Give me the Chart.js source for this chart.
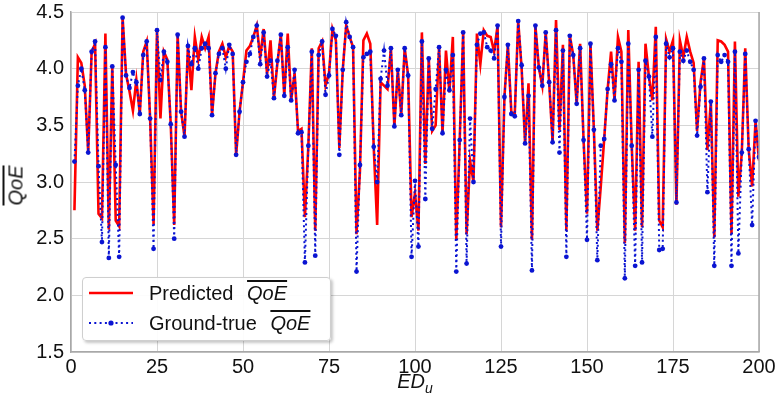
<!DOCTYPE html>
<html>
<head>
<meta charset="utf-8">
<script src="https://cdn.jsdelivr.net/npm/chart.js@4.4.1/dist/chart.umd.min.js"></script>
<style>
  body { margin: 0; background: #fff; }
  #wrap { position: relative; width: 778px; height: 401px; font-family: "Liberation Sans", Arial, sans-serif; color: #111; }
  #qoeChart { position: absolute; left: 0; top: 0; }
  .ov { font-style: italic; text-decoration: overline; }
  #legend {
    position: absolute; left: 82px; top: 277px; width: 247px; height: 62px;
    background: rgba(255,255,255,0.92); border: 1px solid #cfcfcf; border-radius: 4px;
    box-shadow: 2px 2px 3px rgba(0,0,0,0.22); font-size: 20px;
  }
  .row { position: absolute; left: 0; height: 24px; line-height: 24px; white-space: nowrap; }
  .row svg { position: absolute; left: 6px; top: 2px; }
  .row span.txt { position: absolute; left: 66px; top: 0; }
  #ytitle { position: absolute; left: -4px; top: 174px; width: 40px; text-align: center; font-size: 20px; transform: rotate(-90deg); }
  #xtitle { position: absolute; left: 365px; top: 370px; width: 100px; text-align: center; font-size: 20px; font-style: italic; }
  #xtitle sub { font-size: 14px; }
</style>
</head>
<body>
<div id="wrap">
  <canvas id="qoeChart" width="778" height="401"></canvas>
  <div id="legend">
    <div class="row" style="top:3px">
      <svg width="48" height="20"><line x1="0" y1="10" x2="44" y2="10" stroke="#ff0000" stroke-width="2.5"/></svg>
      <span class="txt">Predicted <span class="ov" style="margin-left:8px">QoE</span></span>
    </div>
    <div class="row" style="top:33px">
      <svg width="48" height="20"><line x1="0" y1="10" x2="44" y2="10" stroke="#0a14d2" stroke-width="2" stroke-dasharray="2,3.3"/><circle cx="22" cy="10" r="2.6" fill="#0a14d2"/></svg>
      <span class="txt">Ground-true <span class="ov" style="margin-left:8px">QoE</span></span>
    </div>
  </div>
  <div id="ytitle"><span class="ov">QoE</span></div>
  <div id="xtitle">ED<sub>u</sub></div>
</div>
<script>
const edIndex = Array.from({ length: 200 }, (_, i) => i + 1);

const groundTrue = [
  3.18, 3.85, 4.00, 3.81, 3.26, 4.15, 4.24, 3.14, 2.47, 4.19,
  2.33, 4.02, 3.15, 2.34, 4.45, 3.94, 3.83, 3.97, 3.88, 3.60,
  4.12, 4.24, 3.56, 2.41, 4.34, 3.90, 4.15, 4.06, 3.51, 2.50,
  4.30, 3.62, 3.40, 4.20, 4.04, 4.18, 4.00, 4.18, 4.22, 4.18,
  3.59, 3.96, 4.13, 4.18, 4.00, 4.21, 4.13, 3.24, 3.62, 3.88,
  4.06, 4.13, 4.28, 4.38, 4.04, 4.32, 3.93, 4.07, 3.74, 4.07,
  4.30, 3.76, 4.19, 3.72, 3.99, 3.43, 3.44, 2.29, 3.32, 4.15,
  2.35, 4.12, 4.24, 3.77, 3.94, 4.35, 4.29, 3.24, 3.99, 4.41,
  4.28, 4.19, 2.21, 3.15, 4.10, 4.13, 4.15, 3.31, 3.00, 3.91,
  4.16, 3.85, 4.18, 3.49, 3.99, 3.59, 4.18, 3.94, 2.34, 3.01,
  2.43, 4.24, 2.85, 4.09, 3.47, 3.82, 4.19, 3.43, 3.99, 3.81,
  4.12, 2.21, 3.37, 4.32, 2.28, 3.56, 3.00, 4.21, 4.31, 4.32,
  4.19, 4.16, 4.09, 4.38, 2.43, 3.75, 4.21, 3.60, 3.58, 4.42,
  4.03, 3.34, 3.76, 2.22, 4.38, 4.01, 3.85, 4.32, 3.88, 3.35,
  4.34, 3.26, 4.16, 2.34, 4.29, 4.12, 3.69, 4.18, 3.37, 2.49,
  4.22, 3.46, 2.31, 3.32, 3.38, 3.82, 4.04, 3.72, 4.18, 4.06,
  2.15, 4.22, 3.32, 2.26, 3.99, 2.29, 4.07, 3.93, 3.40, 4.28,
  2.40, 2.41, 4.22, 4.10, 4.18, 2.82, 4.15, 4.07, 4.16, 4.06,
  3.99, 3.41, 3.84, 4.09, 2.91, 3.71, 2.26, 4.12, 4.06, 4.12,
  4.06, 2.26, 4.15, 2.37, 3.26, 4.13, 3.29, 2.62, 3.54, 3.22
];

const predicted = [
  2.75, 4.10, 4.05, 3.85, 3.26, 4.15, 4.22, 2.72, 2.68, 4.31,
  2.58, 4.02, 2.66, 2.61, 4.45, 3.95, 3.80, 3.63, 3.90, 3.60,
  4.15, 4.24, 3.56, 2.63, 4.34, 3.56, 4.15, 4.08, 3.51, 2.62,
  4.30, 3.62, 3.40, 4.20, 3.81, 4.28, 4.08, 4.28, 4.18, 4.28,
  3.59, 3.96, 4.15, 4.22, 4.10, 4.20, 4.15, 3.24, 3.62, 3.88,
  4.16, 4.20, 4.28, 4.38, 4.10, 4.35, 3.95, 4.25, 3.74, 4.05,
  4.30, 3.76, 4.31, 3.72, 3.96, 3.45, 3.47, 2.69, 3.32, 4.18,
  2.57, 4.18, 4.24, 3.85, 3.96, 4.35, 4.25, 3.30, 3.99, 4.38,
  4.28, 4.19, 2.54, 3.10, 4.25, 4.31, 4.22, 3.31, 2.62, 3.88,
  3.85, 3.82, 4.18, 3.49, 3.99, 3.59, 4.18, 3.94, 2.69, 2.90,
  2.57, 4.32, 3.16, 4.09, 3.45, 3.50, 4.19, 3.43, 4.16, 3.79,
  4.28, 2.49, 3.37, 4.32, 2.54, 3.19, 3.00, 4.31, 4.04, 4.34,
  4.29, 4.28, 4.15, 4.38, 2.60, 3.75, 4.21, 3.62, 3.60, 4.42,
  4.00, 3.34, 3.87, 2.49, 4.38, 4.01, 3.85, 4.32, 3.88, 3.35,
  4.43, 3.46, 4.21, 2.57, 4.29, 4.12, 3.69, 4.22, 3.37, 2.72,
  4.22, 3.46, 2.57, 2.96, 3.38, 3.82, 4.15, 3.72, 4.28, 4.15,
  2.46, 4.34, 3.32, 2.57, 4.06, 2.60, 4.22, 3.93, 3.72, 4.37,
  2.66, 2.60, 4.26, 4.15, 4.25, 2.80, 4.25, 4.10, 4.28, 4.15,
  4.05, 3.45, 3.88, 4.09, 3.28, 3.71, 2.51, 4.25, 4.24, 4.21,
  4.15, 2.54, 4.24, 2.87, 3.26, 4.18, 3.29, 2.96, 3.54, 3.19
];

const xTicks = [0, 25, 50, 75, 100, 125, 150, 175, 200];
const yTicks = [1.5, 2.0, 2.5, 3.0, 3.5, 4.0, 4.5];

const tickFont = { family: '"Liberation Sans", Arial, sans-serif', size: 20 };

// right spine, matplotlib style
const rightSpine = {
  id: 'rightSpine',
  afterDraw(chart) {
    const a = chart.chartArea;
    const c = chart.ctx;
    c.save();
    c.strokeStyle = '#a8a8a8';
    c.lineWidth = 1.5;
    c.beginPath();
    c.moveTo(a.right, a.top);
    c.lineTo(a.right, a.bottom);
    c.stroke();
    c.restore();
  }
};

const ctx = document.getElementById('qoeChart').getContext('2d');
new Chart(ctx, {
  type: 'line',
  data: {
    datasets: [
      {
        label: 'Ground-true QoE',
        data: edIndex.map((x, i) => ({ x: x, y: groundTrue[i] })),
        borderColor: '#0a14d2',
        backgroundColor: '#0a14d2',
        borderWidth: 2,
        borderDash: [2, 3.3],
        pointRadius: 2.4,
        pointBorderWidth: 0,
        pointBackgroundColor: '#0a14d2',
        tension: 0,
        order: 0
      },
      {
        label: 'Predicted QoE',
        data: edIndex.map((x, i) => ({ x: x, y: predicted[i] })),
        borderColor: '#ff0000',
        borderWidth: 2.6,
        pointRadius: 0,
        tension: 0,
        order: 1
      }
    ]
  },
  options: {
    responsive: false,
    animation: false,
    layout: { padding: { top: 12, right: 19, left: 0, bottom: 0 } },
    plugins: {
      legend: { display: false },
      tooltip: { enabled: false }
    },
    scales: {
      x: {
        type: 'linear',
        min: 0,
        max: 200,
        afterBuildTicks: (scale) => { scale.ticks = xTicks.map(v => ({ value: v })); },
        afterFit: (scale) => { scale.height = 49; scale.paddingLeft = 0; scale.paddingRight = 0; },
        ticks: { font: tickFont, color: '#111', padding: 3, maxRotation: 0 },
        grid: { color: '#d6d6d6', lineWidth: 1, drawTicks: false },
        border: { color: '#a8a8a8', width: 1.5 }
      },
      y: {
        min: 1.5,
        max: 4.5,
        afterBuildTicks: (scale) => { scale.ticks = yTicks.map(v => ({ value: v })); },
        afterFit: (scale) => { scale.width = 71; scale.paddingTop = 0; scale.paddingBottom = 0; },
        ticks: { font: tickFont, color: '#111', padding: 7, callback: (v) => v.toFixed(1) },
        grid: { color: '#d6d6d6', lineWidth: 1, drawTicks: false },
        border: { color: '#a8a8a8', width: 1.5 }
      }
    }
  },
  plugins: [rightSpine]
});
</script>
</body>
</html>
